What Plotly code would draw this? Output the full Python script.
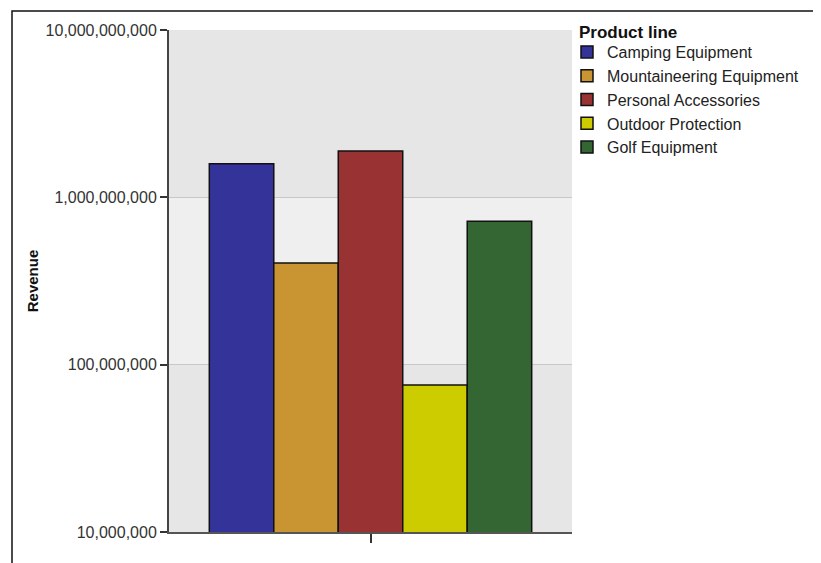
import plotly.graph_objects as go

categories = ["Total"]
product_lines = ["Camping Equipment", "Mountaineering Equipment", "Personal Accessories",
                 "Outdoor Protection", "Golf Equipment"]
revenue = [1.59e9, 4.05e8, 1.89e9, 7.55e7, 7.2e8]
colors = ["#333399", "#C99432", "#993333", "#CCCC00", "#336633"]
tick_vals = [1e7, 1e8, 1e9, 1e10]
tick_text = ["10,000,000", "100,000,000", "1,000,000,000", "10,000,000,000"]
legend_title = "Product line"
y_title = "Revenue"

FONT = "Liberation Sans, Arial, sans-serif"

# page is rendered with an 8px body margin: work in figure coords = screen - 8
OFF = 8
FW, FH = 821 - OFF, 563 - OFF
L, R, T, B = 169 - OFF, 572 - OFF, 30 - OFF, 532 - OFF
W, H = R - L, B - T


def px(x):
    return (x - OFF - L) / W


def py(y):
    return (B - (y - OFF)) / H


fig = go.Figure()
for name, val, col in zip(product_lines, revenue, colors):
    fig.add_trace(go.Bar(
        x=categories, y=[val], name=name,
        marker=dict(color=col, line=dict(color="#111111", width=1.5)),
    ))

fig.update_layout(
    width=FW, height=FH,
    margin=dict(l=L, r=FW - R, t=T, b=FH - B, autoexpand=False),
    paper_bgcolor="white",
    plot_bgcolor="#e6e6e6",
    barmode="group", bargap=0.2, bargroupgap=0,
    font=dict(family=FONT, size=16, color="#222222"),
    showlegend=True,
    legend=dict(
        x=px(567), xanchor="left",
        y=py(35), yanchor="top",
        bgcolor="rgba(0,0,0,0)",
        font=dict(size=16, color="#222222"),
        tracegroupgap=0,
    ),
    annotations=[dict(
        text="<b>" + legend_title + "</b>", xref="paper", yref="paper",
        x=px(577), y=py(32), xanchor="left", yanchor="middle", showarrow=False,
        font=dict(size=17, color="#111111"),
    )],
    xaxis=dict(
        type="category", showticklabels=False, showgrid=False,
        ticks="outside", ticklen=9, tickcolor="#333333", tickwidth=1.5,
        showline=True, linecolor="#555555", linewidth=2,
        zeroline=False, fixedrange=True,
    ),
    yaxis=dict(
        type="log", range=[7, 10],
        tickvals=tick_vals, ticktext=tick_text,
        ticks="outside", ticklen=7, tickcolor="#333333", tickwidth=1.5,
        showline=True, linecolor="#444444", linewidth=2,
        showgrid=True, gridcolor="#c8c8c8", gridwidth=1,
        zeroline=False,
        title=dict(text="<b>" + y_title + "</b>", font=dict(size=15, color="#111111"), standoff=3),
        tickfont=dict(size=16, color="#333333"),
    ),
    shapes=[
        # lighter band between 1e8 and 1e9
        dict(type="rect", xref="paper", yref="y", x0=0, x1=1, y0=1e8, y1=1e9,
             fillcolor="#efeff0", line=dict(width=0), layer="below"),
        # outer frame (open at right/bottom)
        dict(type="rect", xref="paper", yref="paper",
             x0=px(12), x1=2.0, y0=-0.5, y1=py(11),
             line=dict(color="#111111", width=1.5), fillcolor="rgba(0,0,0,0)"),
    ],
)

fig.write_html("out.html")
